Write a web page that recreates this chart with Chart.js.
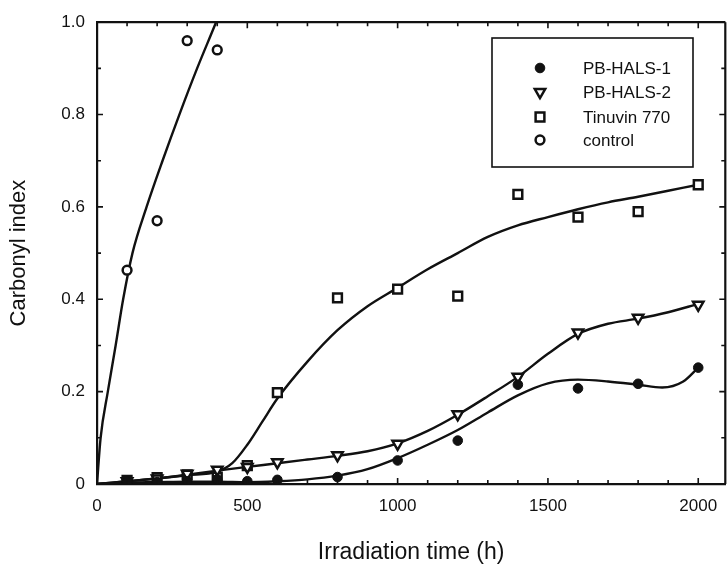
<!DOCTYPE html>
<html>
<head>
<meta charset="utf-8">
<script src="https://cdn.jsdelivr.net/npm/chart.js@4.4.1/dist/chart.umd.min.js"></script>
<style>
html,body{margin:0;padding:0;background:#fff;overflow:hidden}
#wrap{width:734px;height:566px}
canvas{display:block}
</style>
</head>
<body>
<div id="wrap"><canvas id="c" width="734" height="566"></canvas></div>
<script>
// ---------- data ----------
const seriesNames = ['PB-HALS-1', 'PB-HALS-2', 'Tinuvin 770', 'control'];

const sampleTimes = [100, 200, 300, 400, 500, 600, 800, 1000, 1200, 1400, 1600, 1800, 2000];
const hals1Values = [0.004, 0.004, 0.006, 0.010, 0.006, 0.009, 0.015, 0.051, 0.094, 0.215, 0.207, 0.217, 0.252];
const hals2Values = [0.006, 0.012, 0.022, 0.031, 0.037, 0.047, 0.062, 0.087, 0.151, 0.232, 0.328, 0.360, 0.388];
const tinuvinValues = [0.008, 0.014, 0.020, 0.015, 0.040, 0.198, 0.403, 0.422, 0.407, 0.627, 0.578, 0.590, 0.648];

const controlTimes = [100, 200, 300, 400];
const controlValues = [0.463, 0.570, 0.960, 0.940];

// fitted curves
const hals1CurveTimes = [0, 100, 200, 300, 400, 500, 600, 700, 800, 900, 1000, 1100, 1200, 1300, 1400, 1500, 1600, 1700, 1800, 1880, 1950, 2000];
const hals1CurveValues = [0, 0.003, 0.004, 0.005, 0.005, 0.004, 0.006, 0.010, 0.018, 0.032, 0.056, 0.085, 0.117, 0.155, 0.192, 0.218, 0.226, 0.222, 0.215, 0.209, 0.222, 0.252];

const hals2CurveTimes = [0, 100, 200, 300, 400, 500, 600, 700, 800, 900, 1000, 1100, 1200, 1300, 1400, 1500, 1600, 1700, 1800, 1900, 2000];
const hals2CurveValues = [0, 0.006, 0.012, 0.020, 0.029, 0.037, 0.045, 0.053, 0.061, 0.071, 0.088, 0.115, 0.150, 0.190, 0.232, 0.282, 0.325, 0.347, 0.358, 0.372, 0.390];

const tinuvinCurveTimes = [0, 100, 200, 300, 400, 450, 500, 550, 600, 700, 800, 900, 1000, 1100, 1200, 1300, 1400, 1500, 1600, 1700, 1800, 1900, 2000];
const tinuvinCurveValues = [0, 0.006, 0.012, 0.019, 0.027, 0.045, 0.085, 0.135, 0.185, 0.265, 0.333, 0.385, 0.425, 0.465, 0.500, 0.535, 0.560, 0.578, 0.595, 0.610, 0.622, 0.635, 0.648];

const controlCurveTimes = [0, 12, 36, 62, 87, 118, 165, 218, 274, 333, 396, 420];
const controlCurveValues = [0, 0.10, 0.20, 0.30, 0.40, 0.50, 0.60, 0.70, 0.80, 0.90, 1.00, 1.04];

// axis ticks
const xMajorTicks = [0, 500, 1000, 1500, 2000];
const xMinorTicks = [100, 200, 300, 400, 600, 700, 800, 900, 1100, 1200, 1300, 1400, 1600, 1700, 1800, 1900];
const yMajorTicks = [0, 0.2, 0.4, 0.6, 0.8, 1.0];
const yTickLabels = ['0', '0.2', '0.4', '0.6', '0.8', '1.0'];
const yMinorTicks = [0.1, 0.3, 0.5, 0.7, 0.9];

const xTitle = 'Irradiation time (h)';
const yTitle = 'Carbonyl index';

// ---------- styling ----------
const FONT = "'Liberation Sans', Arial, Helvetica, sans-serif";
const INK = '#111';

function pts(xs, ys) { return xs.map((x, i) => ({ x: x, y: ys[i] })); }

const markerStyles = [
  { pointStyle: 'circle', pointRadius: 4.8, pointBackgroundColor: INK, pointBorderColor: INK, pointBorderWidth: 1, pointRotation: 0 },
  { pointStyle: 'triangle', pointRadius: 6, pointBackgroundColor: '#fff', pointBorderColor: INK, pointBorderWidth: 2.5, pointRotation: 180 },
  { pointStyle: 'rect', pointRadius: 6.2, pointBackgroundColor: '#fff', pointBorderColor: INK, pointBorderWidth: 2.5, pointRotation: 0 },
  { pointStyle: 'circle', pointRadius: 4.4, pointBackgroundColor: '#fff', pointBorderColor: INK, pointBorderWidth: 2.5, pointRotation: 0 }
];

const markerData = [
  pts(sampleTimes, hals1Values),
  pts(sampleTimes, hals2Values),
  pts(sampleTimes, tinuvinValues),
  pts(controlTimes, controlValues)
];
const curveData = [
  pts(hals1CurveTimes, hals1CurveValues),
  pts(hals2CurveTimes, hals2CurveValues),
  pts(tinuvinCurveTimes, tinuvinCurveValues),
  pts(controlCurveTimes, controlCurveValues)
];

const datasets = [];
markerData.forEach((d, i) => {
  datasets.push(Object.assign({
    label: seriesNames[i],
    data: d,
    showLine: false,
    order: 0
  }, markerStyles[i]));
});
curveData.forEach((d, i) => {
  datasets.push({
    label: seriesNames[i] + ' fit',
    data: d,
    showLine: true,
    borderColor: INK,
    borderWidth: 2.4,
    pointRadius: 0,
    cubicInterpolationMode: 'monotone',
    fill: false,
    order: 1
  });
});

// frame, inward ticks and legend
const decorPlugin = {
  id: 'decor',
  afterDraw(chart) {
    const ctx = chart.ctx;
    const a = chart.chartArea;
    const xs = chart.scales.x, ys = chart.scales.y;
    ctx.save();
    ctx.strokeStyle = INK;
    ctx.lineWidth = 2.2;
    ctx.beginPath();
    ctx.moveTo(a.left, a.top); ctx.lineTo(a.right, a.top);
    ctx.moveTo(a.right, a.top); ctx.lineTo(a.right, a.bottom);
    ctx.stroke();

    ctx.lineWidth = 1.6;
    ctx.beginPath();
    const xt = (v, len) => {
      const px = xs.getPixelForValue(v);
      ctx.moveTo(px, a.bottom); ctx.lineTo(px, a.bottom - len);
      ctx.moveTo(px, a.top); ctx.lineTo(px, a.top + len);
    };
    xMajorTicks.forEach(v => xt(v, 6));
    xMinorTicks.forEach(v => xt(v, 4));
    const yt = (v, len) => {
      const py = ys.getPixelForValue(v);
      ctx.moveTo(a.left, py); ctx.lineTo(a.left + len, py);
      ctx.moveTo(a.right, py); ctx.lineTo(a.right - len, py);
    };
    yMajorTicks.forEach(v => yt(v, 6));
    yMinorTicks.forEach(v => yt(v, 4));
    ctx.stroke();

    // legend box
    const box = { x: 492, y: 38, w: 201, h: 129 };
    ctx.fillStyle = '#fff';
    ctx.fillRect(box.x, box.y, box.w, box.h);
    ctx.lineWidth = 1.6;
    ctx.strokeStyle = INK;
    ctx.strokeRect(box.x, box.y, box.w, box.h);
    const rowY = [68, 92, 117, 140];
    ctx.font = '17px ' + FONT;
    ctx.textBaseline = 'middle';
    ctx.textAlign = 'left';
    seriesNames.forEach((name, i) => {
      const s = markerStyles[i];
      ctx.fillStyle = s.pointBackgroundColor;
      ctx.strokeStyle = s.pointBorderColor;
      ctx.lineWidth = s.pointBorderWidth;
      Chart.helpers.drawPoint(ctx, {
        pointStyle: s.pointStyle,
        rotation: s.pointRotation,
        radius: s.pointRadius,
        borderWidth: s.pointBorderWidth
      }, 540, rowY[i]);
      ctx.fillStyle = INK;
      ctx.fillText(name, 583, rowY[i] + 1);
    });
    ctx.restore();
  }
};

new Chart(document.getElementById('c'), {
  type: 'scatter',
  data: { datasets: datasets },
  plugins: [decorPlugin],
  options: {
    responsive: false,
    animation: false,
    devicePixelRatio: 1,
    layout: { padding: { top: 15, right: 3, left: 0, bottom: 0 } },
    plugins: { legend: { display: false }, tooltip: { enabled: false } },
    scales: {
      x: {
        type: 'linear',
        min: 0,
        max: 2090,
        afterBuildTicks: (s) => { s.ticks = xMajorTicks.map(v => ({ value: v })); },
        afterFit: (s) => { s.height = 82; },
        grid: { display: false, drawTicks: false },
        border: { display: true, color: INK, width: 2.2 },
        ticks: {
          autoSkip: false, maxRotation: 0, color: INK, padding: 12,
          font: { family: FONT, size: 17 },
          callback: (v) => String(v)
        },
        title: {
          display: true, text: xTitle, color: INK,
          font: { family: FONT, size: 23 },
          padding: { top: 0, bottom: 0 }
        }
      },
      y: {
        type: 'linear',
        min: 0,
        max: 1,
        afterBuildTicks: (s) => { s.ticks = yMajorTicks.map(v => ({ value: v })); },
        afterFit: (s) => { s.width = 97; },
        grid: { display: false, drawTicks: false },
        border: { display: true, color: INK, width: 2.2 },
        ticks: {
          autoSkip: false, color: INK, padding: 12,
          font: { family: FONT, size: 17 },
          callback: (v) => { const k = yMajorTicks.indexOf(v); return k >= 0 ? yTickLabels[k] : ''; }
        },
        title: {
          display: true, text: yTitle, color: INK,
          font: { family: FONT, size: 22 },
          padding: { top: 6, bottom: 0 }
        }
      }
    }
  }
});
</script>
</body>
</html>
